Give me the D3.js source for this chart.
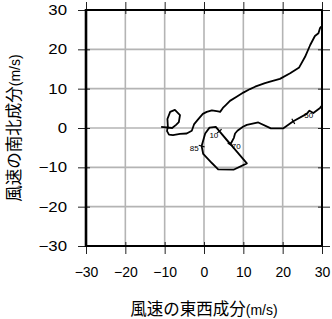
<!DOCTYPE html>
<html><head><meta charset="utf-8">
<script src="https://cdn.jsdelivr.net/npm/d3@7"></script>
<style>
body{margin:0;background:#fff;}
svg{display:block;}
text{font-family:"Liberation Sans",Arial,sans-serif;}
</style></head>
<body>
<script>
// ---- data ----
const xTicks = [-30,-20,-10,0,10,20,30];
const yTicks = [-30,-20,-10,0,10,20,30];
const xTitle = "風速の東西成分";
const yTitle = "風速の南北成分";
const unitText = "(m/s)";
// upper part of the hodograph (loop -> top right)
const upperU = [-10.9,-8.1,-7.1,-6.4,-6.1,-7.4,-8.6,-9.3,-9.2,-9.4,-8.9,-7.9,-6.1,-4.4,-3.1,-2.5,-1.5,-0.3,0.7,2.0,3.6,4.1,4.8,5.6,6.6,8.4,10.0,11.7,13.0,15.5,16.8,19.3,21.9,24.2,25.7,27.0,28.2,29.1,29.5,29.8];
const upperV = [0.3,0.0,0.8,1.5,3.3,4.6,4.1,2.3,0.5,-0.8,-1.7,-1.8,-1.5,-1.4,-0.7,1.0,2.2,3.6,4.1,4.5,4.2,4.1,5.1,5.9,6.9,8.0,9.0,9.9,10.5,11.4,11.8,12.5,13.9,15.4,18.1,21.1,23.4,24.1,25.4,25.8];
// lower part (surface "10" -> "85" -> "70" -> "50" -> right edge)
const lowerU = [3.9,10.9,7.5,3.6,2.0,-0.2,-0.6,0.3,1.4,3.0,3.9,6.7,7.6,7.9,8.5,9.9,10.9,13.8,17.0,20.1,22.7,26.1,26.8,27.8,29.5,30.0];
const lowerV = [-0.8,-9.0,-10.6,-10.5,-8.9,-6.6,-4.6,-1.4,0.1,0.3,-0.8,-4.2,-2.5,-1.4,-0.7,0.3,0.8,1.4,-0.1,-0.1,1.7,3.6,4.4,3.8,5.1,5.7];
const levelNames = ["10","85","70","50"];
const levelIndex = [0,6,11,20];

// ---- layout ----
const W=332,H=319;
const m={l:86,t:10,r:10,b:73};
const pw=W-m.l-m.r, ph=H-m.t-m.b;
const svg=d3.select("body").append("svg").attr("width",W).attr("height",H);
const g=svg.append("g").attr("transform",`translate(${m.l},${m.t})`);
const x=d3.scaleLinear().domain([-30,30]).range([0,pw]);
const y=d3.scaleLinear().domain([-30,30]).range([ph,0]);

// grid
g.append("g").selectAll("line").data(xTicks.slice(1,-1)).join("line")
 .attr("x1",d=>x(d)).attr("x2",d=>x(d)).attr("y1",0).attr("y2",ph)
 .attr("stroke","#b4b4b4").attr("stroke-width",1.6);
g.append("g").selectAll("line").data(yTicks.slice(1,-1)).join("line")
 .attr("y1",d=>y(d)).attr("y2",d=>y(d)).attr("x1",0).attr("x2",pw)
 .attr("stroke","#b4b4b4").attr("stroke-width",1.6);

// axes
function styleAxis(sel){
  sel.select(".domain").remove();
  sel.selectAll(".tick line").attr("stroke","#222").attr("stroke-width",1);
  sel.selectAll(".tick text").attr("font-size",14).attr("fill","#000")
     .attr("font-family","'Liberation Sans',Arial,sans-serif");
}
const ax=g.append("g").attr("transform",`translate(0,${ph})`)
 .call(d3.axisBottom(x).tickValues(xTicks).tickSize(8).tickPadding(13).tickFormat(d3.format("d")));
styleAxis(ax); ax.selectAll(".tick line").attr("y1",-4);
const ay=g.append("g")
 .call(d3.axisLeft(y).tickValues(yTicks).tickSize(8).tickPadding(11).tickFormat(d3.format("d")));
styleAxis(ay); ay.selectAll(".tick line").attr("x1",4);
ay.selectAll(".tick text").attr("transform","translate(-19,0) scale(1.2,1) translate(19,0)");
const at=g.append("g")
 .call(d3.axisTop(x).tickValues(xTicks).tickSize(8).tickFormat(""));
styleAxis(at); at.selectAll(".tick line").attr("y1",4);
const ar=g.append("g").attr("transform",`translate(${pw},0)`)
 .call(d3.axisRight(y).tickValues(yTicks).tickSize(8).tickFormat(""));
styleAxis(ar); ar.selectAll(".tick line").attr("x1",-4);

// frame
g.append("rect").attr("x",0).attr("y",0).attr("width",pw).attr("height",ph)
 .attr("fill","none").attr("stroke","#000").attr("stroke-width",2);
g.append("line").attr("x1",0).attr("x2",0).attr("y1",-1).attr("y2",ph+1)
 .attr("stroke","#000").attr("stroke-width",2.6);

// lines
svg.append("defs").append("clipPath").attr("id","clip").append("rect")
 .attr("x",-1).attr("y",-1).attr("width",pw+2).attr("height",ph+2);
const line=d3.line().x(d=>x(d[0])).y(d=>y(d[1]));
const upper=upperU.map((u,i)=>[u,upperV[i]]);
const lower=lowerU.map((u,i)=>[u,lowerV[i]]);
const lg=g.append("g").attr("clip-path","url(#clip)");
[upper,lower].forEach(s=>{
  lg.append("path").datum(s).attr("d",line).attr("fill","none")
    .attr("stroke","#000").attr("stroke-width",1.8).attr("stroke-linejoin","round");
});

// level markers
const labOff={"10":[-1,7,"end"],"85":[-3,5,"end"],"70":[1.5,4,"start"],"50":[11,-3,"start"]};
levelNames.forEach((name,k)=>{
  const i=levelIndex[k];
  const p=lower[i], q=lower[Math.min(i+1,lower.length-1)];
  const px=x(p[0]),py=y(p[1]);
  let dx=x(q[0])-px, dy=y(q[1])-py; const n=Math.hypot(dx,dy)||1; dx/=n; dy/=n;
  g.append("line").attr("x1",px-dy*3).attr("y1",py+dx*3).attr("x2",px+dy*3).attr("y2",py-dx*3)
   .attr("stroke","#000").attr("stroke-width",1.2);
  const o=labOff[name];
  g.append("text").attr("x",px+o[0]).attr("y",py+o[1]).attr("text-anchor",o[2])
   .attr("font-size",8).text(name);
});

// titles
const xt=svg.append("text").attr("x",m.l+pw/2).attr("y",315).attr("text-anchor","middle");
xt.append("tspan").attr("font-family","'Noto Sans CJK JP',sans-serif").attr("font-size",16.5).text(xTitle);
xt.append("tspan").attr("font-size",14).text(unitText);
const yt=svg.append("text").attr("transform",`translate(20,${m.t+ph/2}) rotate(-90)`).attr("text-anchor","middle");
yt.append("tspan").attr("font-family","'Noto Sans CJK JP',sans-serif").attr("font-size",16.5).text(yTitle);
yt.append("tspan").attr("font-size",14).text(unitText);
</script>
</body></html>
